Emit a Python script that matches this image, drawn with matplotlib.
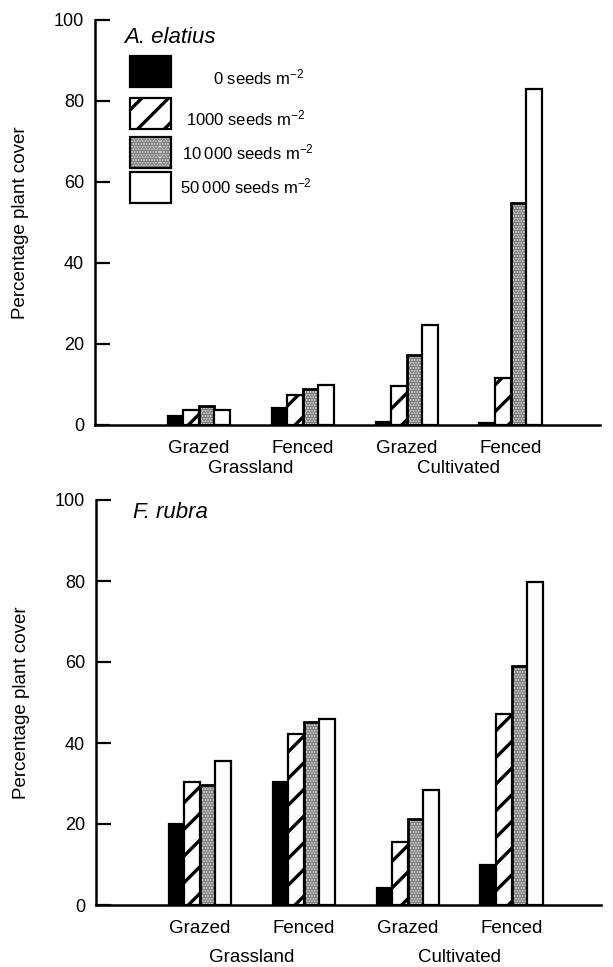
import matplotlib
matplotlib.use("Agg")
import matplotlib.pyplot as plt
from matplotlib.patches import Rectangle
from matplotlib.transforms import blended_transform_factory
import numpy as np

DPI = 80
S = 100 / DPI  # point sizes below are given for 100 dpi and scaled

plt.rcParams['font.family'] = ['Liberation Sans', 'DejaVu Sans']
plt.rcParams['mathtext.fontset'] = 'custom'
plt.rcParams['mathtext.rm'] = 'Liberation Sans'
plt.rcParams['mathtext.default'] = 'regular'
plt.rcParams['hatch.linewidth'] = 2.4 * S

# ---------------- data ----------------
treatments = ["Grazed", "Fenced", "Grazed", "Fenced"]
habitats = ["Grassland", "Cultivated"]
densities = ["0 seeds m$^{-2}$", "1000 seeds m$^{-2}$",
             "10\u2009000 seeds m$^{-2}$", "50\u2009000 seeds m$^{-2}$"]
species = ["A. elatius", "F. rubra"]

# columns: Grassland-Grazed, Grassland-Fenced, Cultivated-Grazed, Cultivated-Fenced
elatius_0 = [2.3, 4.1, 0.7, 0.6]
elatius_1000 = [3.8, 7.3, 9.6, 11.6]
elatius_10000 = [4.8, 8.9, 17.4, 54.8]
elatius_50000 = [3.6, 9.9, 24.7, 82.9]

rubra_0 = [19.9, 30.3, 4.1, 9.8]
rubra_1000 = [30.4, 42.1, 15.6, 47.2]
rubra_10000 = [29.6, 45.3, 21.2, 58.9]
rubra_50000 = [35.5, 45.9, 28.5, 79.7]

yticks = [0, 20, 40, 60, 80, 100]

# ---------------- figure ----------------
W, H = 613, 967
fig = plt.figure(figsize=(W / DPI, H / DPI), dpi=DPI)

def axes_px(left, top, right, bottom):
    return fig.add_axes([left / W, 1 - bottom / H, (right - left) / W, (bottom - top) / H])

ax1 = axes_px(95, 20, 600, 425)
ax2 = axes_px(96, 500, 601, 905)

bw = 0.15
LW = 1.6 * S
styles = [
    dict(facecolor='black', hatch=None),
    dict(facecolor='white', hatch='/'),
    dict(facecolor='#c6c6c6', hatch=None),
    dict(facecolor='white', hatch=None),
]

def draw_panel(ax, series, title, legend, hab_off):
    x = np.arange(1, len(treatments) + 1)
    for i, (vals, st) in enumerate(zip(series, styles)):
        offs = (i - 1.5) * bw
        if i == 2:
            ax.bar(x + offs, vals, width=bw, facecolor='#e6e6e6', edgecolor='#7a7a7a',
                   hatch='.....', linewidth=0, zorder=2)
            ax.bar(x + offs, vals, width=bw, facecolor='none', edgecolor='black',
                   linewidth=LW * 1.25, zorder=3)
        else:
            ax.bar(x + offs, vals, width=bw, facecolor=st['facecolor'], edgecolor='black',
                   hatch=st['hatch'], linewidth=LW, zorder=3)
    ax.set_xlim(0, 4.86)
    ax.set_ylim(0, 100)
    ax.set_yticks(yticks)
    ax.set_yticklabels([str(t) for t in yticks], fontsize=13 * S)
    ax.tick_params(axis='y', direction='in', length=11 * S, width=1.6 * S, pad=8 * S)
    ax.set_xticks(x)
    ax.set_xticklabels(treatments, fontsize=13.5 * S)
    ax.tick_params(axis='x', length=0, pad=11 * S)
    for s in ['top', 'right']:
        ax.spines[s].set_visible(False)
    for s in ['left', 'bottom']:
        ax.spines[s].set_linewidth(1.8 * S)
    ax.set_ylabel("Percentage plant cover", fontsize=13.5 * S, labelpad=18 * S)
    tr = blended_transform_factory(ax.transData, ax.transAxes)
    for j, hab in enumerate(habitats):
        ax.annotate(hab, xy=(1.5 + 2 * j, 0), xycoords=tr, xytext=(0, -hab_off * S),
                    textcoords='offset points', ha='center', va='center', fontsize=13.5 * S)
    if legend:
        ax.text(0.0574, 0.9556, title, transform=ax.transAxes, fontsize=16 * S,
                style='italic', ha='left', va='center')
        box_bottoms = [0.8346, 0.7309, 0.6346, 0.5481]
        text_y = [0.859, 0.758, 0.672, 0.588]
        text_x = [0.2337, 0.180, 0.172, 0.168]
        for i, st in enumerate(styles):
            rect = (0.0693, box_bottoms[i])
            if i == 2:
                ax.add_patch(Rectangle(rect, 0.0812, 0.0765,
                                       transform=ax.transAxes, facecolor='#e6e6e6',
                                       edgecolor='#7a7a7a', hatch='.....', linewidth=0,
                                       clip_on=False, zorder=4))
                ax.add_patch(Rectangle(rect, 0.0812, 0.0765,
                                       transform=ax.transAxes, facecolor='none',
                                       edgecolor='black', linewidth=LW,
                                       clip_on=False, zorder=5))
            else:
                ax.add_patch(Rectangle(rect, 0.0812, 0.0765,
                                       transform=ax.transAxes, facecolor=st['facecolor'],
                                       edgecolor='black', hatch=st['hatch'], linewidth=LW,
                                       clip_on=False, zorder=5))
            ax.text(text_x[i], text_y[i], densities[i], transform=ax.transAxes,
                    fontsize=12 * S, ha='left', va='center')
    else:
        ax.text(0.073, 0.968, title, transform=ax.transAxes, fontsize=16 * S,
                style='italic', ha='left', va='center')

draw_panel(ax1, [elatius_0, elatius_1000, elatius_10000, elatius_50000], species[0], True, 31)
draw_panel(ax2, [rubra_0, rubra_1000, rubra_10000, rubra_50000], species[1], False, 38)

fig.savefig("out.png", dpi=DPI)
